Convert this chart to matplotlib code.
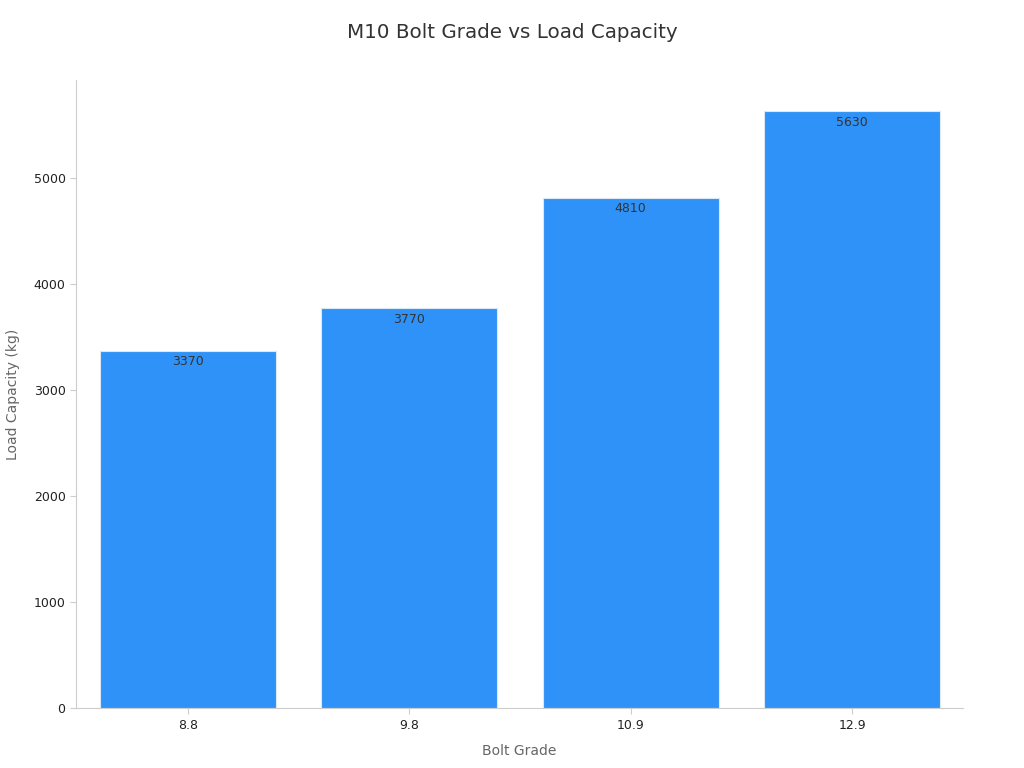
import matplotlib
matplotlib.use("Agg")
import matplotlib.pyplot as plt

plt.rcParams.update({"font.family": "DejaVu Sans"})

grades = ["8.8", "9.8", "10.9", "12.9"]
capacity = [3370, 3770, 4810, 5630]
yticks = [0, 1000, 2000, 3000, 4000, 5000]

fig = plt.figure(figsize=(10.24, 7.68), dpi=100)
ax = fig.add_axes([0.0742, 0.078, 0.866, 0.8178])

x = range(len(grades))
bars = ax.bar(x, capacity, width=0.795, color="#2f92f8", edgecolor="#dbe9f7", linewidth=0.8)
for xi, v in zip(x, capacity):
    ax.text(xi, v - 40, str(v), ha="center", va="top", fontsize=9, color="#333333")

ax.set_xlim(-0.505, 3.5)
ax.set_ylim(0, 5925)
ax.set_xticks(list(x))
ax.set_xticklabels(grades)
ax.set_yticks(yticks)
ax.tick_params(axis="both", labelsize=9, colors="#cccccc", labelcolor="#222222", length=4)

ax.set_xlabel("Bolt Grade", fontsize=10, color="#666666", labelpad=9)
ax.set_ylabel("Load Capacity (kg)", fontsize=10, color="#666666", labelpad=10)
fig.suptitle("M10 Bolt Grade vs Load Capacity", fontsize=14.3, color="#333333", y=0.97)

ax.spines[["top", "right"]].set_visible(False)
ax.spines["left"].set_color("#cccccc")
ax.spines["bottom"].set_color("#cccccc")

fig.savefig("out.png", dpi=100)
